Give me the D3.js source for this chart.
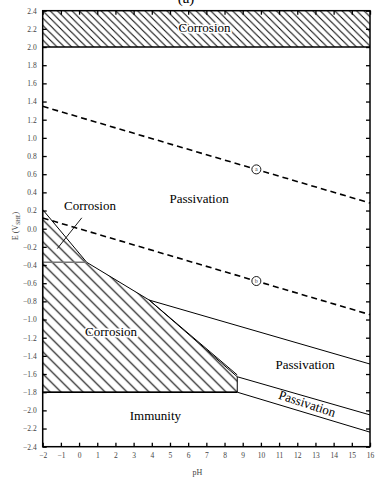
<!DOCTYPE html>
<html>
<head>
<meta charset="utf-8">
<script src="https://cdn.jsdelivr.net/npm/d3@7"></script>
<style>
  body { margin: 0; background: #fff; }
  svg text { font-family: "Liberation Serif", "Times New Roman", "DejaVu Serif", serif; }
</style>
</head>
<body>
<svg id="chart" width="375" height="478"></svg>
<script>
// axis ticks
const phTicks = [-2, -1, 0, 1, 2, 3, 4, 5, 6, 7, 8, 9, 10, 11, 12, 13, 14, 15, 16]
const eTicks = [-2.4, -2.2, -2.0, -1.8, -1.6, -1.4, -1.2, -1.0, -0.8, -0.6, -0.4, -0.2,
  0.0, 0.2, 0.4, 0.6, 0.8, 1.0, 1.2, 1.4, 1.6, 1.8, 2.0, 2.2, 2.4]

// water stability lines (pH, E)
const lineA = [[-2, 1.347], [16, 0.283]]
const lineB = [[-2, 0.118], [16, -0.946]]
const markA = [9.75, 0.653]
const markB = [9.75, -0.576]

// region boundaries (pH, E)
const topCorrosion = [[-2, 2.0], [16, 2.0], [16, 2.4], [-2, 2.4]]
const lowCorrosion = [[-2, 0.21], [0.42, -0.37], [3.86, -0.786], [8.7, -1.63], [8.7, -1.8], [-2, -1.8]]
const innerLine = [[-2, -0.37], [0.42, -0.37]]
const passUpper = [[3.86, -0.786], [16, -1.49]]
const passMidA = [[8.7, -1.63], [16, -2.05]]
const passMidB = [[8.7, -1.8], [16, -2.24]]
const edgeExtra = [[3.86, -0.786], [8.7, -1.61]]

// labels
const labels = [
  { text: "Corrosion", ph: 6.9, e: 2.2 },
  { text: "Passivation", ph: 6.6, e: 0.32 },
  { text: "Corrosion", ph: 1.76, e: -1.15 },
  { text: "Immunity", ph: 4.2, e: -2.07 },
  { text: "Passivation", ph: 12.43, e: -1.513 }
]

const svg = d3.select('#chart')
const margin = { top: 10.7, right: 5, bottom: 31.3, left: 42.7 }
const width = 375 - margin.left - margin.right
const height = 478 - margin.top - margin.bottom

const x = d3.scaleLinear().domain([-2, 16]).range([0, width])
const y = d3.scaleLinear().domain([-2.4, 2.4]).range([height, 0])

const defs = svg.append('defs')
function hatch(id, size, sw) {
  defs.append('pattern')
    .attr('id', id)
    .attr('patternUnits', 'userSpaceOnUse')
    .attr('width', size).attr('height', size)
    .append('path')
    .attr('d', `M-2,-2 L${size + 2},${size + 2} M-2,${size - 2} L2,${size + 2} M${size - 2},-2 L${size + 2},2`)
    .attr('stroke', '#000')
    .attr('stroke-width', sw)
}
hatch('hatchTop', 7.3, 1)
hatch('hatchLow', 11, 1.1)

// title, mostly cut off at the top edge
svg.append('text')
  .attr('x', 186).attr('y', 3)
  .attr('text-anchor', 'middle')
  .attr('font-size', 15)
  .text('(a)')

const g = svg.append('g').attr('transform', `translate(${margin.left},${margin.top})`)

const line = d3.line().x(d => x(d[0])).y(d => y(d[1]))

g.append('path').datum(topCorrosion)
  .attr('d', line(topCorrosion) + 'Z')
  .attr('fill', 'url(#hatchTop)')
g.append('path').datum(lowCorrosion)
  .attr('d', line(lowCorrosion) + 'Z')
  .attr('fill', 'url(#hatchLow)')
  .attr('stroke', '#000').attr('stroke-width', 1)

g.append('path').datum(innerLine).attr('d', line)
  .attr('stroke', '#777').attr('stroke-width', 1.5).attr('fill', 'none')

;[passUpper, passMidA, passMidB, edgeExtra].forEach(seg => {
  g.append('path').datum(seg).attr('d', line)
    .attr('stroke', '#000').attr('stroke-width', 1).attr('fill', 'none')
})

g.append('line')
  .attr('x1', x(-2)).attr('x2', x(16))
  .attr('y1', y(2.0)).attr('y2', y(2.0))
  .attr('stroke', '#000').attr('stroke-width', 1.5)
g.append('line')
  .attr('x1', x(-2)).attr('x2', x(8.7))
  .attr('y1', y(-1.8)).attr('y2', y(-1.8))
  .attr('stroke', '#000').attr('stroke-width', 1.5)

;[lineA, lineB].forEach(seg => {
  g.append('path').datum(seg).attr('d', line)
    .attr('stroke', '#000').attr('stroke-width', 1.6)
    .attr('stroke-dasharray', '6,4').attr('fill', 'none')
})

;[[markA, 'a'], [markB, 'b']].forEach(([m, t]) => {
  g.append('circle').attr('cx', x(m[0])).attr('cy', y(m[1])).attr('r', 4.5)
    .attr('fill', '#fff').attr('stroke', '#000').attr('stroke-width', 0.9)
  g.append('text').attr('x', x(m[0])).attr('y', y(m[1]) + 2)
    .attr('text-anchor', 'middle').attr('font-size', 6).attr('fill', '#444').text(t)
})

// labels with white halos over the hatch
labels.forEach(d => {
  g.append('text')
    .attr('x', x(d.ph)).attr('y', y(d.e))
    .attr('text-anchor', 'middle')
    .attr('dominant-baseline', 'middle')
    .attr('font-size', 13)
    .attr('stroke', '#fff').attr('stroke-width', 3).attr('paint-order', 'stroke')
    .text(d.text)
})

// rotated label between the two lower lines
const angle = Math.atan2(y(-2.05) - y(-1.63), x(16) - x(8.7)) * 180 / Math.PI + 2
g.append('text')
  .attr('transform', `translate(${x(12.52)},${y(-1.94)}) rotate(${angle})`)
  .attr('text-anchor', 'middle')
  .attr('dominant-baseline', 'middle')
  .attr('font-size', 13)
  .text('Passivation')

// small "Corrosion" with pointer line
g.append('text')
  .attr('x', x(0.6)).attr('y', y(0.24))
  .attr('text-anchor', 'middle')
  .attr('dominant-baseline', 'middle')
  .attr('font-size', 13)
  .text('Corrosion')
g.append('line')
  .attr('x1', x(0.15)).attr('y1', y(0.12))
  .attr('x2', x(-1.2)).attr('y2', y(-0.22))
  .attr('stroke', '#000').attr('stroke-width', 0.9)

// frame
g.append('rect').attr('width', width).attr('height', height)
  .attr('fill', 'none').attr('stroke', '#000').attr('stroke-width', 1.5)

// axes with inward ticks
const tickStyle = sel => {
  sel.select('.domain').remove()
  sel.selectAll('.tick line').attr('stroke', '#000').attr('stroke-width', 1.3)
  sel.selectAll('.tick text').attr('font-family', '"Liberation Serif", "Times New Roman", serif')
    .attr('font-size', 7.5).attr('fill', '#444')
}

g.append('g').attr('transform', `translate(0,${height})`)
  .call(d3.axisBottom(x).tickValues(phTicks).tickFormat(d3.format('d')).tickSizeInner(-4).tickSizeOuter(0).tickPadding(6))
  .call(tickStyle)
g.append('g')
  .call(d3.axisTop(x).tickValues(phTicks).tickFormat('').tickSizeInner(-4).tickSizeOuter(0))
  .call(tickStyle)
g.append('g')
  .call(d3.axisLeft(y).tickValues(eTicks).tickFormat(d3.format('.1f')).tickSizeInner(-4).tickSizeOuter(0).tickPadding(6))
  .call(tickStyle)
g.append('g').attr('transform', `translate(${width},0)`)
  .call(d3.axisRight(y).tickValues(eTicks).tickFormat('').tickSizeInner(-4).tickSizeOuter(0))
  .call(tickStyle)

// axis titles
g.append('text')
  .attr('x', width / 2 - 9).attr('y', height + 28)
  .attr('text-anchor', 'middle').attr('font-size', 8).attr('fill', '#444')
  .text('pH')
const yTitle = g.append('text')
  .attr('transform', `translate(${-25},${y(0.03)}) rotate(-90)`)
  .attr('text-anchor', 'middle').attr('font-size', 8).attr('fill', '#444')
yTitle.append('tspan').text('E (V')
yTitle.append('tspan').attr('font-size', 5.5).attr('dy', 2).text('SHE')
yTitle.append('tspan').attr('dy', -2).text(')')
</script>
</body>
</html>
